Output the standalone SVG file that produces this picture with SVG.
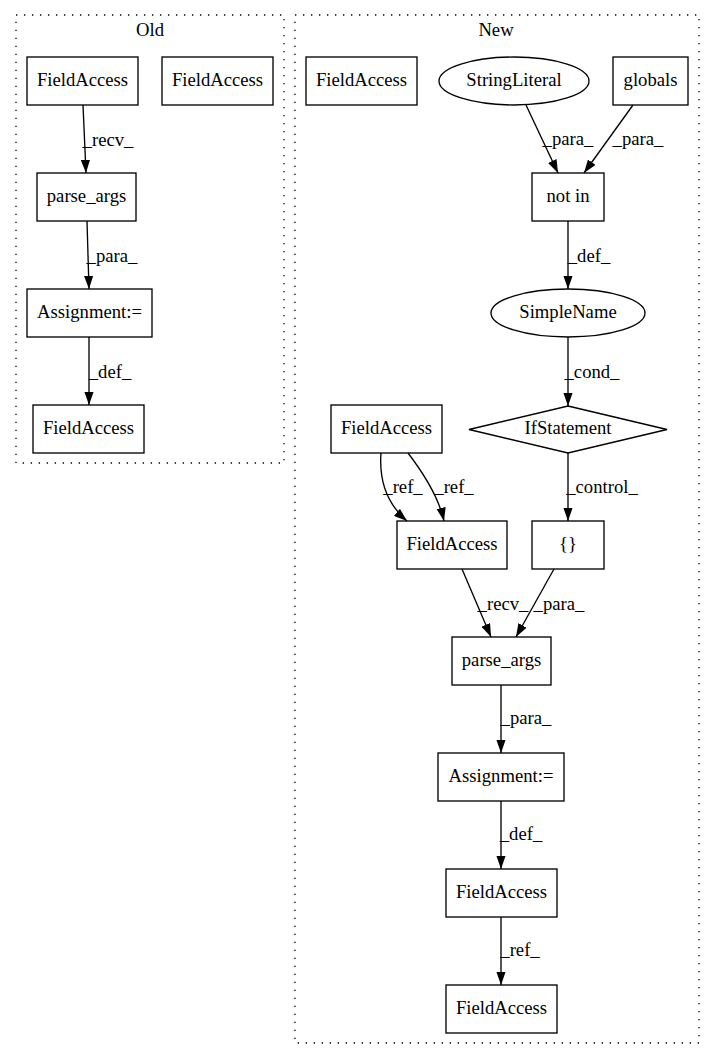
<svg xmlns="http://www.w3.org/2000/svg" width="715" height="1060" viewBox="0 0 715 1060">
<style>
text{font-family:"Liberation Serif","Times New Roman",serif;font-size:18.67px;fill:#000;text-anchor:middle}
.n{fill:none;stroke:#000;stroke-width:1.33}
.c{fill:none;stroke:#000;stroke-width:1.33;stroke-dasharray:1.33,6.67}
.e{fill:none;stroke:#000;stroke-width:1.33;marker-end:url(#ah)}
</style>
<defs>
<marker id="ah" viewBox="0 0 13.3 9.3" refX="13.3" refY="4.65" markerWidth="13.3" markerHeight="9.3" markerUnits="userSpaceOnUse" orient="auto">
<path d="M0,0 L13.3,4.65 L0,9.3 z" fill="#000"/>
</marker>
</defs>
<rect width="715" height="1060" fill="#fff"/>
<g id="cluster_old">
<rect class="c" x="16" y="15" width="268" height="448"/>
<text x="150" y="36">Old</text>
</g>
<g id="cluster_new">
<rect class="c" x="295" y="15" width="404" height="1028"/>
<text x="496" y="36">New</text>
</g>
<g id="edges">
<path class="e" d="M83,105 L86,173"/>
<text x="108" y="146">_recv_</text>
<path class="e" d="M87,221 L89,289"/>
<text x="112" y="262">_para_</text>
<path class="e" d="M89,337 L89,405"/>
<text x="110" y="378">_def_</text>
<path class="e" d="M526,105 L558,173"/>
<text x="568" y="145">_para_</text>
<path class="e" d="M633,105 L584,173"/>
<text x="638" y="145">_para_</text>
<path class="e" d="M568,221 L568,289"/>
<text x="589" y="262">_def_</text>
<path class="e" d="M568,337 L568,406"/>
<text x="592" y="378">_cond_</text>
<path class="e" d="M568,453 L568,521"/>
<text x="602" y="493">_control_</text>
<path class="e" d="M381,453 C379,480 386,503 407,521"/>
<text x="403" y="493">_ref_</text>
<path class="e" d="M408,453 C421,470 438,494 444,521"/>
<text x="454" y="493">_ref_</text>
<path class="e" d="M462,569 L491,637"/>
<text x="503" y="610">_recv_</text>
<path class="e" d="M554,569 L516,637"/>
<text x="559" y="610">_para_</text>
<path class="e" d="M501,685 L501,753"/>
<text x="526" y="724">_para_</text>
<path class="e" d="M501,801 L501,869"/>
<text x="521" y="840">_def_</text>
<path class="e" d="M501,917 L501,985"/>
<text x="520" y="956">_ref_</text>
</g>
<g id="old_fa1"><rect class="n" x="27" y="57" width="111" height="48"/><text x="82.5" y="86">FieldAccess</text></g>
<g id="old_fa2"><rect class="n" x="162" y="57" width="111" height="48"/><text x="217.5" y="86">FieldAccess</text></g>
<g id="old_parse_args"><rect class="n" x="37" y="173" width="99" height="48"/><text x="86.5" y="202">parse_args</text></g>
<g id="old_assign"><rect class="n" x="27" y="289" width="125" height="48"/><text x="89.5" y="318">Assignment:=</text></g>
<g id="old_fa3"><rect class="n" x="33" y="405" width="111" height="48"/><text x="88.5" y="434">FieldAccess</text></g>
<g id="new_fa1"><rect class="n" x="306" y="57" width="111" height="48"/><text x="361.5" y="86">FieldAccess</text></g>
<g id="new_stringliteral"><ellipse class="n" cx="514" cy="81" rx="75" ry="24"/><text x="514" y="86">StringLiteral</text></g>
<g id="new_globals"><rect class="n" x="613" y="57" width="75" height="48"/><text x="650.5" y="86">globals</text></g>
<g id="new_notin"><rect class="n" x="532" y="173" width="72" height="48"/><text x="568" y="202">not in</text></g>
<g id="new_simplename"><ellipse class="n" cx="568" cy="313" rx="77" ry="24"/><text x="568" y="318">SimpleName</text></g>
<g id="new_if"><polygon class="n" points="568,406 667,429.5 568,453 469,429.5"/><text x="568" y="434">IfStatement</text></g>
<g id="new_fa2"><rect class="n" x="331" y="405" width="111" height="48"/><text x="386.5" y="434">FieldAccess</text></g>
<g id="new_fa3"><rect class="n" x="397" y="521" width="110" height="48"/><text x="452" y="550">FieldAccess</text></g>
<g id="new_block"><rect class="n" x="532" y="521" width="72" height="48"/><text x="568" y="550">{}</text></g>
<g id="new_parse_args"><rect class="n" x="452" y="637" width="99" height="48"/><text x="501.5" y="666">parse_args</text></g>
<g id="new_assign"><rect class="n" x="438" y="753" width="126" height="48"/><text x="501" y="782">Assignment:=</text></g>
<g id="new_fa4"><rect class="n" x="446" y="869" width="111" height="48"/><text x="501.5" y="898">FieldAccess</text></g>
<g id="new_fa5"><rect class="n" x="446" y="985" width="111" height="48"/><text x="501.5" y="1014">FieldAccess</text></g>
</svg>
